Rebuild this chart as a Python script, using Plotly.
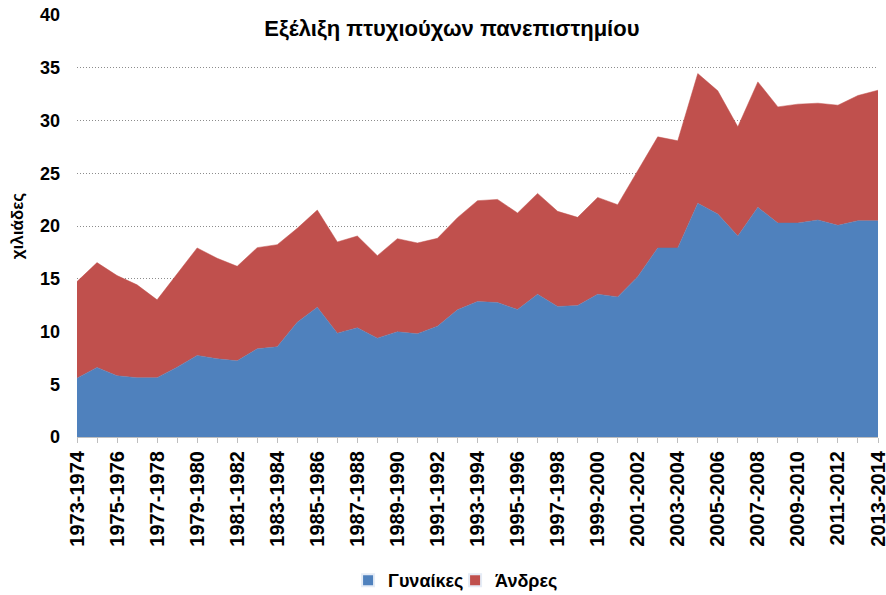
import plotly.graph_objects as go

years = [f"{y}-{y+1}" for y in range(1973, 2014)]

women = [5.58, 6.59, 5.80, 5.62, 5.62, 6.62, 7.73, 7.41, 7.22, 8.36,
         8.55, 10.88, 12.30, 9.84, 10.35, 9.37, 9.97, 9.78, 10.50, 12.05,
         12.84, 12.74, 12.08, 13.53, 12.37, 12.46, 13.53, 13.28, 15.20, 17.92,
         17.92, 22.15, 21.14, 19.05, 21.77, 20.28, 20.28, 20.57, 20.06, 20.50,
         20.50]

total = [14.73, 16.53, 15.30, 14.42, 13.00, 15.46, 17.92, 16.94, 16.18, 17.95,
         18.23, 19.78, 21.51, 18.49, 19.05, 17.19, 18.80, 18.39, 18.83, 20.79,
         22.40, 22.52, 21.23, 23.09, 21.39, 20.82, 22.71, 22.02, 25.24, 28.45,
         28.08, 34.45, 32.81, 29.40, 33.66, 31.29, 31.55, 31.64, 31.45, 32.37,
         32.87]

men = [round(t - w, 2) for t, w in zip(total, women)]

title_text = "Εξέλιξη πτυχιούχων πανεπιστημίου"
y_title = "χιλιάδες"
names = ["Γυναίκες", "Άνδρες"]
colors = ["#4F81BD", "#C0504D"]

x = list(range(len(years)))
FONT = "Liberation Sans"

fig = go.Figure()
for name, vals, col in zip(names, [women, men], colors):
    fig.add_trace(go.Scatter(
        x=x, y=vals, name=name, mode="lines", stackgroup="one",
        line=dict(width=0.5, color=col), fillcolor=col,
        hoverinfo="x+y", showlegend=False
    ))
# legend entries with square swatches
for name, col in zip(names, colors):
    fig.add_trace(go.Bar(x=[None], y=[None], name=name, marker_color=col,
                         showlegend=True, hoverinfo="skip"))

fig.update_layout(
    width=886, height=595,
    margin=dict(l=77, r=8, t=15, b=158, autoexpand=False),
    paper_bgcolor="white", plot_bgcolor="white",
    font=dict(family=FONT, color="black"),
    title=dict(text="<b>" + title_text + "</b>", x=0.51, xref="container",
               xanchor="center", y=1 - 28 / 595, yref="container",
               yanchor="middle",
               font=dict(size=22, family=FONT, color="black", weight="bold")),
    showlegend=True,
    legend=dict(orientation="h", x=0.472, xanchor="center", xref="paper",
                y=-0.34, yanchor="middle",
                font=dict(size=18, family=FONT, weight="bold"),
                traceorder="normal", itemwidth=30, itemsizing="constant",
                entrywidth=62),
)

fig.update_xaxes(
    range=[0, len(years) - 1], automargin=False,
    tickmode="array", tickvals=x[::2], ticktext=years[::2],
    tickangle=-90, tickfont=dict(size=20, family=FONT, color="black", weight="bold"),
    ticklabeloverflow="allow",
    showgrid=False, zeroline=False,
    showline=True, linecolor="#BFBFBF", linewidth=1,
    ticks="outside", ticklen=5, tickcolor="#BFBFBF",
    minor=dict(tickmode="linear", tick0=0, dtick=1, ticks="outside",
               ticklen=5, tickcolor="#BFBFBF", showgrid=False),
)

fig.update_yaxes(
    range=[0, 40], tickmode="linear", tick0=0, dtick=5, automargin=False,
    tickfont=dict(size=18, family=FONT, color="black", weight="bold"),
    showgrid=True, gridcolor="#8C8C8C", griddash="1px,2px", gridwidth=1.3,
    zeroline=False, showline=False, ticks="",
    ticklabelstandoff=16,
    title=dict(text="<b>" + y_title + "</b>",
               font=dict(size=17, family=FONT, color="black", weight="bold"),
               standoff=12),
)

fig.write_html("out.html", config={"displayModeBar": False},
               post_script="document.body.style.margin='0';document.body.style.padding='0';")
